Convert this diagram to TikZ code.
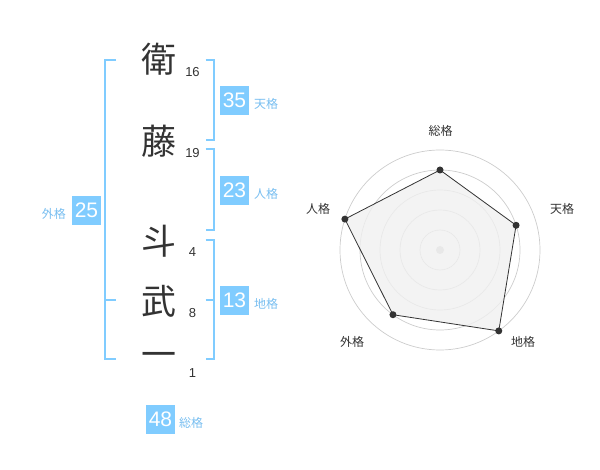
\documentclass[tikz,border=0pt]{standalone}
\usepackage{fontspec}
\setmainfont{Liberation Sans}
\newfontfamily\jpfont{Noto Sans CJK JP}
\usepackage{tikz}
\usetikzlibrary{calc}

\definecolor{kakublue}{RGB}{128,204,255}
\definecolor{kakutext}{RGB}{120,190,240}
\definecolor{inkgray}{RGB}{51,51,51}

\begin{document}
\begin{tikzpicture}[x=1pt, y=-1pt, every node/.style={inner sep=0pt},
  bracket/.style={draw=kakublue, line width=2pt},
  kanji/.style={font=\jpfont\fontsize{35}{35}\selectfont, text=inkgray},
  stroke/.style={font=\fontsize{13}{13}\selectfont, text=inkgray},
  kakubox/.style={fill=kakublue, minimum width=29pt, minimum height=29pt, text=white, font=\fontsize{21}{21}\selectfont},
  kakulabel/.style={font=\jpfont\fontsize{12}{12}\selectfont, text=kakutext},
  radarlabel/.style={font=\jpfont\fontsize{12}{12}\selectfont, text=inkgray}]

\useasboundingbox (0,0) rectangle (600,470);

% Nome (kanji) con numero di tratti
\node[kanji] (k1) at (159,59) {衛};
\node[kanji] (k2) at (159,141) {藤};
\node[kanji] (k3) at (159,241) {斗};
\node[kanji] (k4) at (159,301) {武};
\node[kanji] (k5) at (159,360) {一};

\node[stroke] (s1) at (192.5,72.5) {16};
\node[stroke] (s2) at (192.5,153.5) {19};
\node[stroke] (s3) at (192.5,252.5) {4};
\node[stroke] (s4) at (192.5,313) {8};
\node[stroke] (s5) at (192.5,373) {1};

% Parentesi
\draw[bracket] (116,60) -- (105,60) -- (105,359) -- (116,359);
\draw[bracket] (105,300) -- (116,300);
\draw[bracket] (205.5,60) -- (214,60) -- (214,140) -- (205.5,140);
\draw[bracket] (205.5,149.5) -- (214,149.5) -- (214,230) -- (205.5,230);
\draw[bracket] (205.5,240) -- (214,240) -- (214,359) -- (205.5,359);
\draw[bracket] (205.5,300) -- (214,300);

% Caselle dei valori
\node[kakubox] (ten) at (234.5,100.3) {35};
\node[kakubox] (jin) at (234.5,190.3) {23};
\node[kakubox] (chi) at (234.5,300.3) {13};
\node[kakubox] (gai) at (86.5,210.3) {25};
\node[kakubox] (sou) at (160.5,419) {48};

\node[kakulabel, anchor=west] (tenlab) at (254,104) {天格};
\node[kakulabel, anchor=west] (jinlab) at (254,194) {人格};
\node[kakulabel, anchor=west] (chilab) at (254,304) {地格};
\node[kakulabel, anchor=east] (gailab) at (66,213.5) {外格};
\node[kakulabel, anchor=west] (soulab) at (179,423) {総格};

% Grafico radar
\coordinate (c) at (440,250);
\foreach \r in {20,40,60,80,100}
  \draw[black!20, line width=0.7pt] (c) circle (\r);
\fill[black!20] (c) circle (4);

\coordinate (p1) at ($(c)+(-90:80)$);
\coordinate (p2) at ($(c)+(-18:80)$);
\coordinate (p3) at ($(c)+(54:100)$);
\coordinate (p4) at ($(c)+(126:80)$);
\coordinate (p5) at ($(c)+(-162:100)$);

\draw[inkgray, fill=black!6, fill opacity=0.8, line width=0.8pt] (p1) -- (p2) -- (p3) -- (p4) -- (p5) -- cycle;
\foreach \p in {p1,p2,p3,p4,p5}
  \fill[inkgray] (\p) circle (3.5);

\node[radarlabel] (rsou) at (440.5,130.5) {総格};
\node[radarlabel] (rten) at (562,209) {天格};
\node[radarlabel] (rchi) at (523,341.5) {地格};
\node[radarlabel] (rgai) at (352,341.5) {外格};
\node[radarlabel] (rjin) at (318,209) {人格};

\end{tikzpicture}
\end{document}
